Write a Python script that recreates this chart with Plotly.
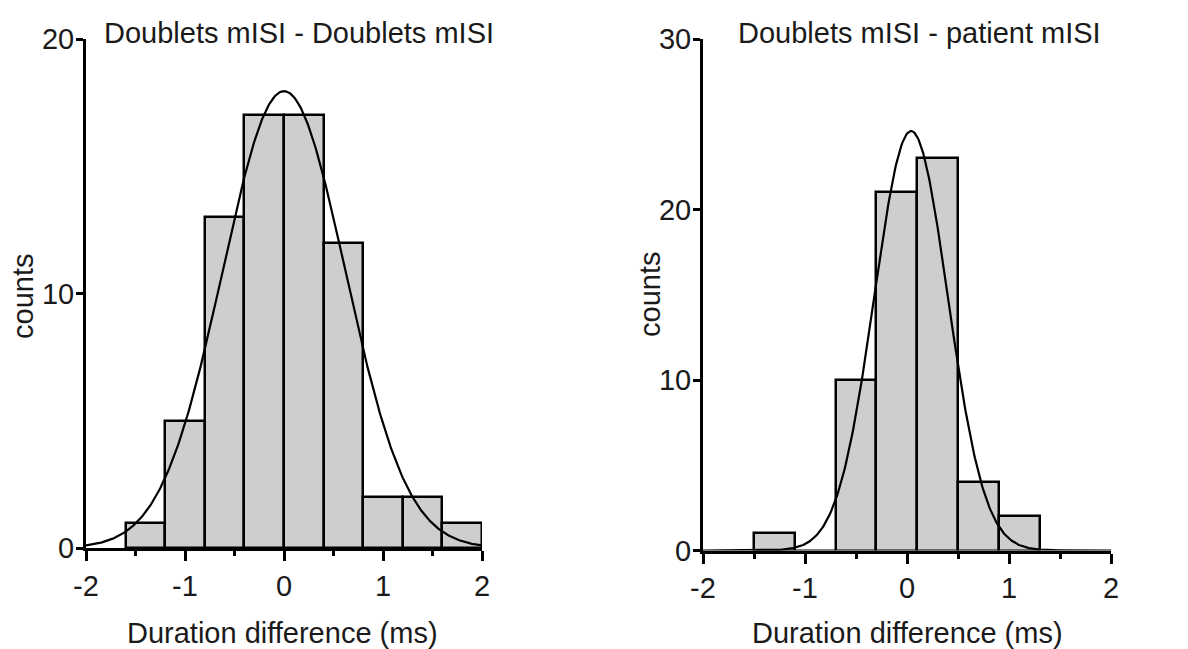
import numpy as np
import plotly.graph_objects as go

# ---- data ----
left_title = "Doublets mISI - Doublets mISI"
right_title = "Doublets mISI - patient mISI"
x_label = "Duration difference (ms)"
y_label = "counts"

bin_width = 0.4
left_bin_starts = [-1.6, -1.2, -0.8, -0.4, 0.0, 0.4, 0.8, 1.2, 1.6]
left_counts = [1, 5, 13, 17, 17, 12, 2, 2, 1]
left_fit_amp, left_fit_mean, left_fit_sigma = 17.95, 0.0, 0.62

right_bin_starts = [-1.5, -1.1, -0.7, -0.3, 0.1, 0.5, 0.9]
right_counts = [1, 0, 10, 21, 23, 4, 2]
right_fit_amp, right_fit_mean, right_fit_sigma = 24.6, 0.04, 0.36

x_tickvals = [-2, -1, 0, 1, 2]
x_ticktext = ["-2", "-1", "0", "1", "2"]
left_y_ticks = [0, 10, 20]
right_y_ticks = [0, 10, 20, 30]

W, H = 1188, 649
FONT = "Liberation Sans, Arial, sans-serif"
FS = 29
BAR_FILL = "rgb(206,206,206)"

fig = go.Figure()


def gauss(xs, a, m, s):
    return a * np.exp(-((xs - m) ** 2) / (2 * s ** 2))


xs = np.linspace(-2, 2, 400)

fig.add_trace(go.Bar(x=left_bin_starts, y=left_counts, width=bin_width, offset=0,
                     marker=dict(color=BAR_FILL, line=dict(color="black", width=2.5)),
                     xaxis="x", yaxis="y", showlegend=False))
fig.add_trace(go.Scatter(x=xs, y=gauss(xs, left_fit_amp, left_fit_mean, left_fit_sigma),
                         mode="lines", line=dict(color="black", width=2.2),
                         xaxis="x", yaxis="y", showlegend=False))
fig.add_trace(go.Bar(x=right_bin_starts, y=right_counts, width=bin_width, offset=0,
                     marker=dict(color=BAR_FILL, line=dict(color="black", width=2.5)),
                     xaxis="x2", yaxis="y2", showlegend=False))
fig.add_trace(go.Scatter(x=xs, y=gauss(xs, right_fit_amp, right_fit_mean, right_fit_sigma),
                         mode="lines", line=dict(color="black", width=2.2),
                         xaxis="x2", yaxis="y2", showlegend=False))

xcommon = dict(range=[-2, 2], tickvals=x_tickvals, ticktext=x_ticktext, ticks="outside",
               ticklen=10, tickwidth=3, tickcolor="black", showline=True, linecolor="black",
               linewidth=3, showgrid=False, zeroline=False, automargin=False,
               tickfont=dict(family=FONT, size=FS, color="#1a1a1a"),
               minor=dict(ticks="outside", ticklen=5, tickwidth=3, tickcolor="black",
                          dtick=0.5, tick0=0, showgrid=False),
               fixedrange=True)
ycommon = dict(ticks="outside", ticklen=7, tickwidth=3, tickcolor="black",
               showline=True, linecolor="black", linewidth=3, showgrid=False,
               zeroline=False, automargin=False, ticklabelstandoff=-4,
               tickfont=dict(family=FONT, size=FS, color="#1a1a1a"),
               fixedrange=True)

fig.update_layout(
    width=W, height=H,
    margin=dict(l=0, r=0, t=0, b=0, autoexpand=False),
    paper_bgcolor="white", plot_bgcolor="white",
    bargap=0,
    xaxis=dict(domain=[86 / W, 482 / W], anchor="y", **xcommon),
    yaxis=dict(domain=[(H - 548) / H, (H - 39) / H], anchor="x", range=[0, 20],
               tickvals=left_y_ticks, **ycommon),
    xaxis2=dict(domain=[703 / W, 1111 / W], anchor="y2", **xcommon),
    yaxis2=dict(domain=[(H - 550.5) / H, (H - 39) / H], anchor="x2", range=[0, 30],
                tickvals=right_y_ticks, **ycommon),
    showlegend=False,
)

ann_font = dict(family=FONT, size=29, color="#1a1a1a")
fig.add_annotation(text=left_title, x=299 / W, y=1 - 33 / H, xref="paper", yref="paper",
                   xanchor="center", yanchor="middle", showarrow=False, font=ann_font)
fig.add_annotation(text=right_title, x=919 / W, y=1 - 33 / H, xref="paper", yref="paper",
                   xanchor="center", yanchor="middle", showarrow=False, font=ann_font)
fig.add_annotation(text=x_label, x=282 / W, y=1 - 633 / H, xref="paper", yref="paper",
                   xanchor="center", yanchor="middle", showarrow=False, font=ann_font)
fig.add_annotation(text=x_label, x=907 / W, y=1 - 633 / H, xref="paper", yref="paper",
                   xanchor="center", yanchor="middle", showarrow=False, font=ann_font)
fig.add_annotation(text=y_label, x=23 / W, y=1 - 297 / H, xref="paper", yref="paper",
                   xanchor="center", yanchor="middle", showarrow=False, font=ann_font,
                   textangle=-90)
fig.add_annotation(text=y_label, x=650 / W, y=1 - 295 / H, xref="paper", yref="paper",
                   xanchor="center", yanchor="middle", showarrow=False, font=ann_font,
                   textangle=-90)

fig.write_html("out.html", config={"displayModeBar": False})
